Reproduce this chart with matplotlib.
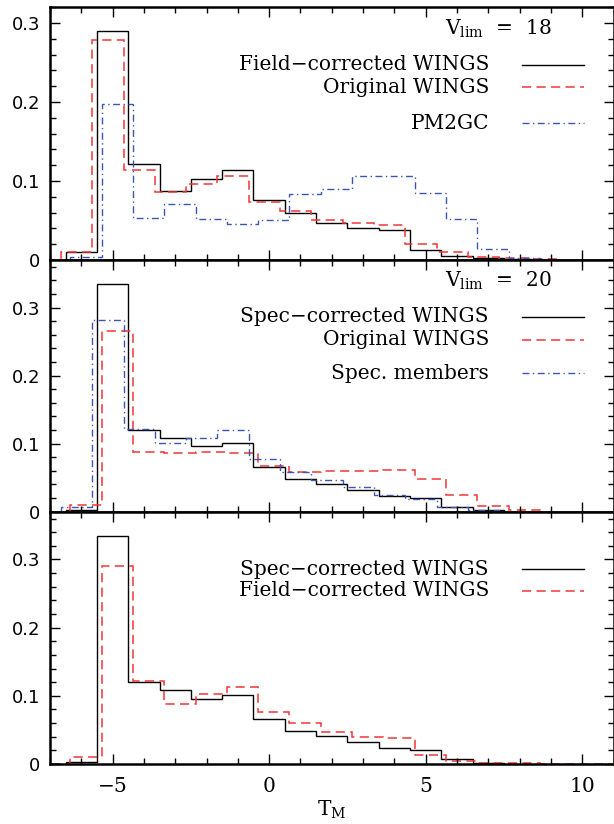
import numpy as np
import matplotlib
matplotlib.use("Agg")
import matplotlib.pyplot as plt
from matplotlib.ticker import MultipleLocator, FuncFormatter

###############################################################
#                       data
###############################################################
# morphological type bins, centred on integers, width 1
t_bins = np.arange(-6, 10)

field_corr = [0.0105, 0.290, 0.121, 0.088, 0.102, 0.1135, 0.0758, 0.060,
              0.047, 0.040, 0.038, 0.0126, 0.005, 0.002, 0.001, 0.0]
orig_v18 = [0.0097, 0.279, 0.114, 0.086, 0.096, 0.106, 0.073, 0.062,
            0.0505, 0.047, 0.044, 0.020, 0.0105, 0.0034, 0.002, 0.001]
pm2gc = [0.0034, 0.198, 0.0526, 0.0707, 0.0518, 0.0455, 0.0505, 0.083,
         0.0905, 0.106, 0.106, 0.085, 0.0514, 0.0137, 0.0025, 0.0]
spec_corr = [0.003, 0.335, 0.120, 0.109, 0.096, 0.101, 0.066, 0.0485,
             0.0406, 0.032, 0.023, 0.020, 0.0075, 0.002, 0.0, 0.0]
orig_v20 = [0.0098, 0.265, 0.088, 0.0868, 0.088, 0.086, 0.067, 0.059,
            0.060, 0.060, 0.061, 0.0485, 0.024, 0.0087, 0.003, 0.0]
spec_members = [0.0064, 0.282, 0.121, 0.1005, 0.109, 0.120, 0.077, 0.059,
                0.047, 0.036, 0.025, 0.018, 0.0065, 0.0025, 0.0, 0.0]

###############################################################
#                       style
###############################################################
plt.rcParams["mathtext.fontset"] = "dejavuserif"
BLACK = "black"
RED = "#f03535"
BLUE = "#3a55b4"
SERIF = "DejaVu Serif"
SANS = "DejaVu Sans"
TXT = 14.5

styles = {
    "black": dict(color=BLACK, lw=1.0, ls="-"),
    "red": dict(color=RED, lw=1.1, ls=(0, (6, 3.5))),
    "blue": dict(color=BLUE, lw=1.0, ls=(0, (5, 2.5, 1, 2.5))),
}


def edges(offset=0.0):
    return np.append(t_bins - 0.5, t_bins[-1] + 0.5) + offset


def hist(ax, vals, style, offset=0.0, pad_full=False):
    v = np.array(vals, dtype=float)
    e = edges(offset)
    if pad_full:
        # zero bins drawn along the baseline over the whole range
        v = np.concatenate([[0.0, 0.0], v, [0.0, 0.0, 0.0]])
        e = np.concatenate([e[0] - np.array([2.0, 1.0]), e, e[-1] + np.array([1.0, 2.0, 3.0])])
    else:
        nz = np.nonzero(v)[0]
        v = v[: nz[-1] + 1]
        e = e[: nz[-1] + 2]
    ax.stairs(v, e, baseline=0, **styles[style])


def key(ax, rows):
    # rows: (label, style, y of the sample line in axes coords)
    for label, style, y in rows:
        ax.text(0.779, y - 0.022, label, transform=ax.transAxes, ha="right",
                va="baseline", fontsize=TXT, family=SERIF)
        ax.plot([0.838, 0.947], [y, y], transform=ax.transAxes, **styles[style])


###############################################################
#                       figure
###############################################################
fig = plt.figure(figsize=(6.14, 8.24), dpi=100)
left, width = 50 / 614, 563.5 / 614
ax1 = fig.add_axes([left, 1 - 260 / 824, width, 252.7 / 824])
ax2 = fig.add_axes([left, 1 - 511.7 / 824, width, 251.7 / 824])
ax3 = fig.add_axes([left, 1 - 764 / 824, width, 252.3 / 824])

for ax in (ax1, ax2, ax3):
    ax.set_xlim(-7, 11)
    ax.xaxis.set_major_locator(MultipleLocator(5))
    ax.xaxis.set_minor_locator(MultipleLocator(1))
    ax.yaxis.set_major_locator(MultipleLocator(0.1))
    ax.yaxis.set_minor_locator(MultipleLocator(0.02))
    ax.tick_params(which="both", direction="in", top=True, right=True, width=1.0)
    ax.tick_params(which="major", length=7.5)
    ax.tick_params(which="minor", length=4)
    ax.tick_params(axis="y", pad=7, labelsize=13)
    ax.yaxis.set_major_formatter(FuncFormatter(lambda v, p: "0" if abs(v) < 1e-9 else "%.1f" % v))
    for lab in ax.get_yticklabels():
        lab.set_family(SANS)
    for s in ax.spines.values():
        s.set_linewidth(1.8)

ax1.set_ylim(0, 0.32)
ax2.set_ylim(0, 0.37)
ax3.set_ylim(0, 0.37)
ax1.tick_params(labelbottom=False)
ax2.tick_params(labelbottom=False)

# panel 1: V_lim = 18
hist(ax1, field_corr, "black")
hist(ax1, orig_v18, "red", -0.15)
hist(ax1, pm2gc, "blue", 0.15)
ax1.text(0.89, 0.89, r"V$_{\rm lim}$  =  18", transform=ax1.transAxes, ha="right",
         va="baseline", fontsize=TXT, family=SERIF)
key(ax1, [("Field\u2212corrected WINGS", "black", 0.772),
          ("Original WINGS", "red", 0.684),
          ("PM2GC", "blue", 0.541)])

# panel 2: V_lim = 20
hist(ax2, spec_corr, "black")
hist(ax2, orig_v20, "red", 0.15)
hist(ax2, spec_members, "blue", -0.15)
ax2.text(0.89, 0.894, r"V$_{\rm lim}$  =  20", transform=ax2.transAxes, ha="right",
         va="baseline", fontsize=TXT, family=SERIF)
key(ax2, [("Spec\u2212corrected WINGS", "black", 0.775),
          ("Original WINGS", "red", 0.684),
          ("Spec. members", "blue", 0.55)])

# panel 3: the two corrections
hist(ax3, spec_corr, "black")
hist(ax3, field_corr, "red", 0.15, pad_full=True)
key(ax3, [("Spec\u2212corrected WINGS", "black", 0.772),
          ("Field\u2212corrected WINGS", "red", 0.686)])

ax3.tick_params(axis="x", pad=9, labelsize=14.5)
for lab in ax3.get_xticklabels():
    lab.set_family(SERIF)
ax3.set_xlabel(r"T$_{\rm M}$", fontsize=TXT, family=SERIF, labelpad=2)

fig.savefig("out.png", dpi=100)
